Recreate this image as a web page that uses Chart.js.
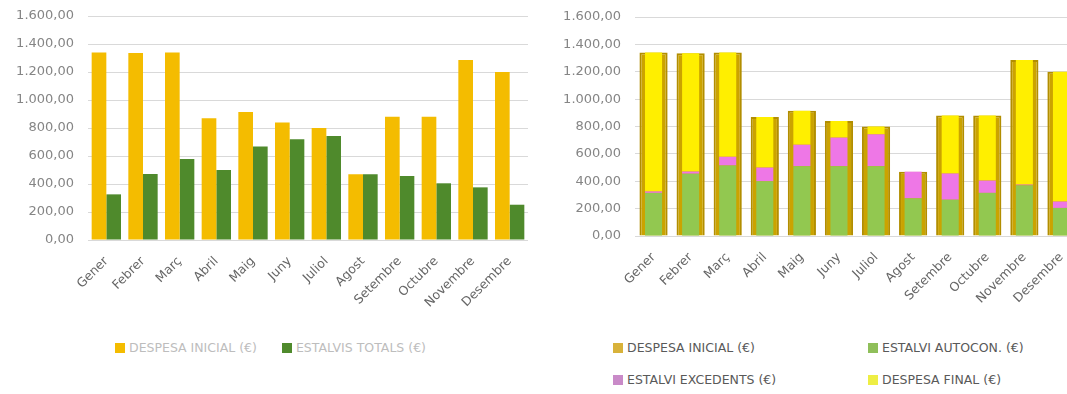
<!DOCTYPE html>
<html>
<head>
<meta charset="utf-8">
<script src="https://cdn.jsdelivr.net/npm/chart.js@4.4.1/dist/chart.umd.min.js"></script>
<style>
    body { margin: 0; width: 1067px; height: 394px; overflow: hidden; background: #fff; font-family: 'DejaVu Sans', sans-serif; }
    .panel { position: absolute; top: 0; height: 330px; }
    #leftPanel { left: 0; width: 530px; }
    #rightPanel { left: 530px; width: 550px; }
    .legend { position: absolute; font-size: 12.5px; }
    .legend .item { display: flex; align-items: center; white-space: nowrap; }
    .legend .item i { display: inline-block; width: 10px; height: 10px; margin-right: 4px; }
    #leftLegend { left: 115px; top: 340px; display: flex; gap: 25px; color: #bdbdbd; }
    #rightLegend { left: 613px; top: 340px; display: grid; grid-template-columns: 255px 200px; row-gap: 17px; color: #595959; }
</style>
</head>
<body>
<div class="panel" id="leftPanel"><canvas id="totalsChart"></canvas></div>
<div class="panel" id="rightPanel"><canvas id="detailChart"></canvas></div>
<div class="legend" id="leftLegend"></div>
<div class="legend" id="rightLegend"></div>

<script>
const months = ['Gener', 'Febrer', 'Març', 'Abril', 'Maig', 'Juny', 'Juliol', 'Agost', 'Setembre', 'Octubre', 'Novembre', 'Desembre'];

const despesaInicial = [1340, 1335, 1340, 870, 915, 840, 800, 470, 880, 880, 1285, 1200];
const estalvisTotals = [326, 471, 579, 500, 667, 719, 743, 470, 457, 405, 376, 252];
const estalviAutocon = [315, 455, 515, 400, 510, 510, 510, 275, 265, 315, 370, 205];
const estalviExcedents = [11, 16, 64, 100, 157, 209, 233, 195, 192, 90, 6, 47];
const despesaFinal = [1014, 864, 761, 370, 248, 121, 57, 0, 423, 475, 909, 948];

const yMax = 1600;
const yStep = 200;

// 1600 -> "1.600,00"
function formatEuro(value) {
    const parts = Number(value).toFixed(2).split('.');
    parts[0] = parts[0].replace(/\B(?=(\d{3})+(?!\d))/g, '.');
    return parts.join(',');
}

function yAxis(width) {
    return {
        min: 0,
        max: yMax,
        stacked: true,
        border: { display: false },
        grid: { color: '#d9d9d9', lineWidth: 1, drawTicks: false },
        ticks: {
            stepSize: yStep,
            padding: 14,
            color: '#858585',
            font: { family: 'DejaVu Sans', size: 13 },
            callback: value => formatEuro(value)
        },
        afterFit: scale => {
            // fixed width, and let layout.padding alone decide the top edge
            scale.width = width;
            scale.paddingTop = 0;
            scale.paddingBottom = 0;
        }
    };
}

function xAxis(height) {
    return {
        stacked: true,
        border: { display: false },
        grid: { display: false },
        ticks: {
            autoSkip: false,
            minRotation: 45,
            maxRotation: 45,
            padding: 6,
            color: '#666',
            font: { family: 'DejaVu Sans', size: 12.5 }
        },
        afterFit: scale => { scale.height = height; }
    };
}

function buildLegend(el, items) {
    el.innerHTML = items.map(item =>
        `<span class="item"><i style="background:${item.color}"></i>${item.label}</span>`
    ).join('');
}

Chart.defaults.animation = false;

// Left: initial spend vs total savings, side by side
const totalsChart = new Chart(document.getElementById('totalsChart').getContext('2d'), {
    type: 'bar',
    data: {
        labels: months,
        datasets: [{
            label: 'DESPESA INICIAL (€)',
            data: despesaInicial,
            backgroundColor: '#f4bc00',
            stack: 'a'
        }, {
            label: 'ESTALVIS TOTALS (€)',
            data: estalvisTotals,
            backgroundColor: '#4f8a2c',
            stack: 'b'
        }]
    },
    options: {
        responsive: true,
        maintainAspectRatio: false,
        layout: { padding: { top: 16, right: 2 } },
        datasets: { bar: { categoryPercentage: 0.8, barPercentage: 1.0 } },
        scales: {
            x: xAxis(90),
            y: yAxis(88)
        },
        plugins: { legend: { display: false }, tooltip: { enabled: false } }
    }
});

// Right: initial spend as a wide bar behind, breakdown stacked in front on the same centre
const detailChart = new Chart(document.getElementById('detailChart').getContext('2d'), {
    type: 'bar',
    data: {
        labels: months,
        datasets: [{
            label: 'DESPESA INICIAL (€)',
            data: despesaInicial,
            backgroundColor: '#cba300',
            borderColor: '#b28e00',
            borderWidth: 2,
            stack: 'ini',
            order: 1,
            categoryPercentage: 0.76
        }, {
            label: 'ESTALVI AUTOCON. (€)',
            data: estalviAutocon,
            backgroundColor: '#92c850',
            stack: 'det',
            order: 0
        }, {
            label: 'ESTALVI EXCEDENTS (€)',
            data: estalviExcedents,
            backgroundColor: '#ee77e6',
            stack: 'det',
            order: 0
        }, {
            label: 'DESPESA FINAL (€)',
            data: despesaFinal,
            backgroundColor: '#ffef00',
            stack: 'det',
            order: 0
        }]
    },
    options: {
        responsive: true,
        maintainAspectRatio: false,
        layout: { padding: { top: 17, right: 0 } },
        datasets: { bar: { grouped: false, categoryPercentage: 0.46, barPercentage: 1.0 } },
        scales: {
            x: xAxis(94),
            y: yAxis(105)
        },
        plugins: { legend: { display: false }, tooltip: { enabled: false } }
    }
});

buildLegend(document.getElementById('leftLegend'), [
    { label: 'DESPESA INICIAL (€)', color: '#f4bc00' },
    { label: 'ESTALVIS TOTALS (€)', color: '#4f8a2c' }
]);

buildLegend(document.getElementById('rightLegend'), [
    { label: 'DESPESA INICIAL (€)', color: '#d8b23a' },
    { label: 'ESTALVI AUTOCON. (€)', color: '#8fbf5a' },
    { label: 'ESTALVI EXCEDENTS (€)', color: '#c98ac8' },
    { label: 'DESPESA FINAL (€)', color: '#eeee44' }
]);
</script>
</body>
</html>
